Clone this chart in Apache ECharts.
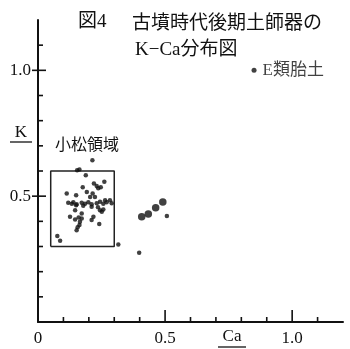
<!DOCTYPE html>
<html><head><meta charset="utf-8">
<script src="https://cdn.jsdelivr.net/npm/echarts@6/dist/echarts.min.js"></script>
<style>html,body{margin:0;padding:0;background:#fff}#c{width:350px;height:349px}</style>
</head><body><div id="c"></div>
<script>
// ---- data ----
const komatsuPoints = [
  [0.214,0.643],[0.163,0.606],[0.154,0.603],[0.188,0.583],[0.261,0.557],[0.220,0.550],[0.231,0.540],
  [0.237,0.531],[0.247,0.535],[0.176,0.535],[0.113,0.511],[0.150,0.504],[0.192,0.517],[0.205,0.497],
  [0.215,0.511],[0.224,0.497],[0.264,0.484],[0.283,0.484],
  [0.119,0.474],[0.133,0.470],[0.139,0.476],[0.152,0.468],[0.172,0.474],[0.185,0.470],[0.198,0.476],
  [0.211,0.468],[0.231,0.472],[0.244,0.478],[0.257,0.470],[0.270,0.476],[0.290,0.472],
  [0.150,0.464],[0.178,0.462],[0.146,0.444],[0.211,0.458],[0.244,0.444],[0.251,0.438],[0.257,0.447],
  [0.236,0.456],[0.126,0.418],[0.172,0.431],[0.172,0.411],[0.218,0.418],[0.211,0.405],[0.165,0.398],
  [0.163,0.385],[0.156,0.376],[0.152,0.365],[0.241,0.389],[0.076,0.342],[0.087,0.323],[0.316,0.308],
  [0.398,0.275],[0.507,0.421],[0.146,0.407],[0.160,0.415]
];
const largePoints = [[0.408,0.418],[0.434,0.429],[0.463,0.454],[0.491,0.477]];
const ePoint = [[0.85,1.0]];
const ePointName = 'E類胎土';
const regionX = [0.05, 0.3];
const regionY = [0.3, 0.6];
const regionName = '小松領域';
const titleFig = '図4';
const titleLine1 = '古墳時代後期土師器の';
const titleLine2 = 'K−Ca分布図';
const xName = 'Ca';
const yName = 'K';
const xLabelValues = [0, 0.5, 1.0];
const yLabelValues = [0.5, 1.0];
const tickValues = [0.1,0.2,0.3,0.4,0.5,0.6,0.7,0.8,0.9,1.0,1.1];
const majorTickValues = [0.5, 1.0];
const axisMin = 0, axisMax = 1.2, labelInterval = 0.1;

// ---- chart ----
const INK = '#111';
const SERIF = "'Liberation Serif','Noto Sans CJK JP'";
const CJK = "'Noto Sans CJK JP'";
const near = (a, b) => Math.abs(a - b) < 1e-6;
const isIn = (arr, v) => arr.some(l => near(l, v));
const fmtX = v => isIn(xLabelValues, v) ? (near(v, 0) ? '0' : v.toFixed(1)) : '';
const fmtY = v => isIn(yLabelValues, v) ? (near(v, 0) ? '0' : v.toFixed(1)) : '';

const regionRect = [
  [regionX[0], regionY[0]], [regionX[1], regionY[0]], [regionX[1], regionY[1]],
  [regionX[0], regionY[1]], [regionX[0], regionY[0]]
];

const chart = echarts.init(document.getElementById('c'));

chart.setOption({
  animation: false,
  grid: {left: 38, right: 7, top: 20, bottom: 27},
  xAxis: {
    type: 'value', min: axisMin, max: axisMax, interval: labelInterval,
    splitLine: {show: false},
    axisLine: {show: true, lineStyle: {color: INK, width: 2}},
    axisTick: {show: false},
    axisLabel: {show: true, formatter: fmtX, margin: 8, showMaxLabel: false,
      color: INK, fontFamily: SERIF, fontSize: 17}
  },
  yAxis: {
    type: 'value', min: axisMin, max: axisMax, interval: labelInterval,
    splitLine: {show: false},
    axisLine: {show: true, lineStyle: {color: INK, width: 2}},
    axisTick: {show: false},
    axisLabel: {show: true, formatter: fmtY, margin: 7, showMaxLabel: false,
      color: INK, fontFamily: SERIF, fontSize: 17}
  },
  series: [
    {
      type: 'custom', data: tickValues.map(v => [v, axisMin]),
      renderItem: function (params, api) {
        const v = api.value(0);
        const p = api.coord([v, api.value(1)]);
        const len = isIn(majorTickValues, v) ? 12 : 5;
        return {type: 'rect', shape: {x: p[0] - 0.8, y: p[1] - len, width: 1.6, height: len},
          style: {fill: INK}};
      }
    },
    {
      type: 'custom', data: tickValues.map(v => [axisMin, v]),
      renderItem: function (params, api) {
        const v = api.value(1);
        const p = api.coord([api.value(0), v]);
        const major = isIn(majorTickValues, v);
        const x0 = p[0] - (major ? 6 : 0), x1 = p[0] + (major ? 8 : 5);
        return {type: 'rect', shape: {x: x0, y: p[1] - 0.8, width: x1 - x0, height: 1.6},
          style: {fill: INK}};
      }
    },
    {
      type: 'line', data: regionRect, symbol: 'none', silent: true,
      lineStyle: {color: '#222', width: 1.5}, z: 1
    },
    {
      type: 'scatter', data: komatsuPoints, symbol: 'circle', symbolSize: 4.5,
      itemStyle: {color: INK}
    },
    {
      type: 'scatter', data: largePoints, symbol: 'circle', symbolSize: 7.5,
      itemStyle: {color: INK}
    },
    {
      type: 'scatter', data: ePoint.map(p => ({value: p, name: ePointName})), symbol: 'circle', symbolSize: 5,
      itemStyle: {color: INK},
      label: {show: true, position: 'right', distance: 6, formatter: '{b}', color: INK,
        fontFamily: SERIF, fontSize: 17}
    }
  ],
  graphic: [
    {type: 'text', style: {x: 78, y: 22, text: titleFig, fill: INK, font: "19px " + SERIF, textVerticalAlign: 'middle'}},
    {type: 'text', style: {x: 132, y: 22, text: titleLine1, fill: INK, font: "19px " + CJK, textVerticalAlign: 'middle'}},
    {type: 'text', style: {x: 135, y: 50, text: titleLine2, fill: INK, font: "19px " + SERIF, textVerticalAlign: 'middle'}},
    {type: 'text', style: {x: 55, y: 144, text: regionName, fill: INK, font: "16px " + CJK, textVerticalAlign: 'middle'}},
    {type: 'text', style: {x: 21, y: 133, text: yName, fill: INK, font: "17px " + SERIF, textAlign: 'center', textVerticalAlign: 'middle'}},
    {type: 'line', shape: {x1: 10, y1: 142, x2: 32, y2: 142}, style: {stroke: INK, lineWidth: 1.3}},
    {type: 'text', style: {x: 232, y: 337, text: xName, fill: INK, font: "17px " + SERIF, textAlign: 'center', textVerticalAlign: 'middle'}},
    {type: 'line', shape: {x1: 218, y1: 347, x2: 246, y2: 347}, style: {stroke: INK, lineWidth: 1.3}}
  ]
});
</script>
</body></html>
